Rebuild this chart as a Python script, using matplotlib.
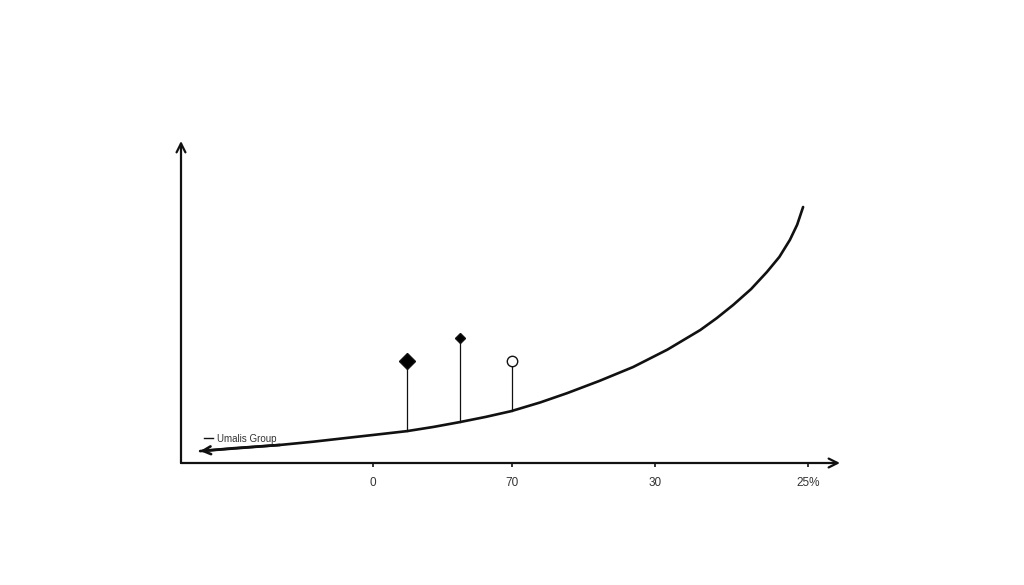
import numpy as np
import matplotlib
matplotlib.use("Agg")
import matplotlib.pyplot as plt
from matplotlib.lines import Line2D

plt.rcParams['font.family'] = ['Liberation Sans', 'DejaVu Sans']

# curve (axis units 0-100)
curve_x = [2.9, 8.0, 15.0, 20.0, 25.2, 30.0, 34.3, 38.3, 42.3, 46.2, 50.1, 54.5, 58.6,
           63.5, 68.6, 73.8, 78.8, 81.3, 83.8, 86.5, 88.9, 90.8, 92.4, 93.5, 94.4]
curve_y = [3.7, 4.6, 5.6, 6.6, 7.8, 8.9, 9.9, 11.2, 12.7, 14.3, 16.1, 18.8, 21.7,
           25.5, 29.8, 35.2, 41.3, 45.0, 49.1, 54.0, 59.3, 64.0, 69.3, 74.0, 79.5]

# stems with markers
stem_x = [34.3, 42.3, 50.2]
stem_base = [9.9, 12.7, 16.1]
stem_top = [31.7, 38.8, 31.7]
stem_marker = ['D', 'D', 'o']
stem_size = [8, 5, 7.5]
stem_face = ['black', 'black', 'white']

tick_pos = [29.1, 50.2, 71.9, 95.1]
tick_labels = ['0', '70', '30', '25%']

series_name = 'Umalis Group'

fig = plt.figure(figsize=(10.24, 5.85), dpi=100)
ax = fig.add_axes([181/1024, 1-463/585, (840-181)/1024, (463-141)/585])
ax.set_xlim(0, 100)
ax.set_ylim(0, 100)

for s in ax.spines.values():
    s.set_visible(False)

# axes drawn as arrows
ax.annotate('', xy=(1.0, 0), xytext=(0, 0), xycoords='axes fraction',
            arrowprops=dict(arrowstyle='->', lw=1.6, color='#111111',
                            shrinkA=0, shrinkB=0, mutation_scale=16))
ax.annotate('', xy=(0, 1.0), xytext=(0, 0), xycoords='axes fraction',
            arrowprops=dict(arrowstyle='->', lw=1.6, color='#111111',
                            shrinkA=0, shrinkB=0, mutation_scale=16))

ax.plot(curve_x, curve_y, color='#111111', lw=1.9, solid_capstyle='round',
        solid_joinstyle='round')
ax.annotate('', xy=(curve_x[0], curve_y[0]), xytext=(curve_x[2], curve_y[2]),
            arrowprops=dict(arrowstyle='->', lw=1.9, color='#111111',
                            shrinkA=0, shrinkB=0, mutation_scale=14))

for x, b, t, m, ms, fc in zip(stem_x, stem_base, stem_top, stem_marker, stem_size, stem_face):
    ax.plot([x, x], [b, t], color='#111111', lw=0.9)
    ax.plot([x], [t], marker=m, markersize=ms, markerfacecolor=fc,
            markeredgecolor='#111111', markeredgewidth=1.0, linestyle='none')

ax.set_xticks(tick_pos)
ax.set_xticklabels(tick_labels, fontsize=8.5, color='#333333')
ax.set_yticks([])
ax.tick_params(axis='x', length=3, width=1.2, color='#111111', pad=7)

ax.legend(handles=[Line2D([0], [0], color='#111111', lw=1.0)], labels=[series_name],
          loc='lower left', bbox_to_anchor=(0.027, 0.045), frameon=False,
          fontsize=7, handlelength=1.0, handletextpad=0.4, borderpad=0,
          labelcolor='#333333')

fig.savefig('out.png', dpi=100, facecolor='white')
